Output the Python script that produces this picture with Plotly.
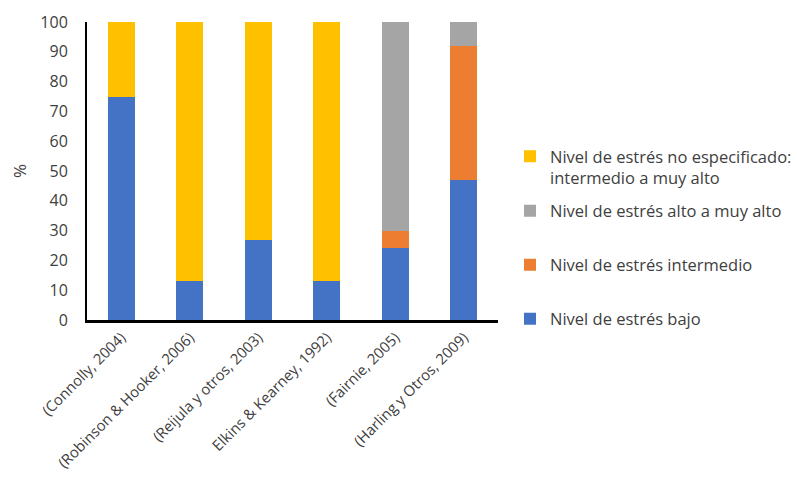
import plotly.graph_objects as go

estudios = [
    "(Connolly, 2004)",
    "(Robinson & Hooker, 2006)",
    "(Reijula y otros, 2003)",
    "Elkins & Kearney, 1992)",
    "(Fairnie, 2005)",
    "(Harling y Otros, 2009)",
]

bajo = [75, 13, 27, 13, 24, 47]
intermedio = [0, 0, 0, 0, 6, 45]
alto_muy_alto = [0, 0, 0, 0, 70, 8]
no_especificado = [25, 87, 73, 87, 0, 0]

W, H = 797, 477

# (label, values, colour, legend id, legend anchor y in pixels from top)
series = [
    ("Nivel de estrés bajo", bajo, "#4472C4", "legend4", 319),
    ("Nivel de estrés intermedio", intermedio, "#ED7D31", "legend3", 265),
    ("Nivel de estrés alto a muy alto", alto_muy_alto, "#A5A5A5", "legend2", 211),
    ("Nivel de estrés no especificado:<br>intermedio a muy alto", no_especificado, "#FFC000", "legend", 139),
]

FAMILY = "Open Sans, sans-serif"
legend_font = dict(family=FAMILY, size=16.5, color="#404040")
tick_font = dict(family=FAMILY, size=16, color="#404040")
xtick_font = dict(family=FAMILY, size=14.8, color="#404040")

fig = go.Figure()
layout_legends = {}
for name, vals, color, leg, ypx in series:
    fig.add_trace(go.Bar(
        x=estudios, y=vals, name=name, legend=leg, showlegend=True,
        marker=dict(color=color, line=dict(width=0)),
        width=0.4,
    ))
    layout_legends[leg] = dict(
        xref="container", yref="container",
        x=510 / W, xanchor="left", y=1 - ypx / H,
        yanchor="top" if leg == "legend" else "middle",
        font=legend_font, bgcolor="rgba(0,0,0,0)", borderwidth=0,
        valign="top", itemwidth=30,
    )

fig.update_layout(
    barmode="stack",
    width=W, height=H,
    margin=dict(l=87, r=299, t=22, b=157, autoexpand=False),
    plot_bgcolor="white", paper_bgcolor="white",
    font=tick_font,
    showlegend=True,
    xaxis=dict(
        showline=True, linecolor="black", linewidth=3,
        tickangle=-45, showgrid=False, ticks="",
        tickfont=xtick_font, automargin=False,
    ),
    yaxis=dict(
        range=[0, 100], dtick=10, showline=True, linecolor="black", linewidth=2,
        showgrid=False, ticks="", zeroline=False, automargin=False,
        tickfont=tick_font, ticklabelstandoff=14,
        title=dict(text="%", font=dict(family=FAMILY, size=17, color="#404040"), standoff=9),
    ),
    **layout_legends,
)

fig.write_html("out.html")
